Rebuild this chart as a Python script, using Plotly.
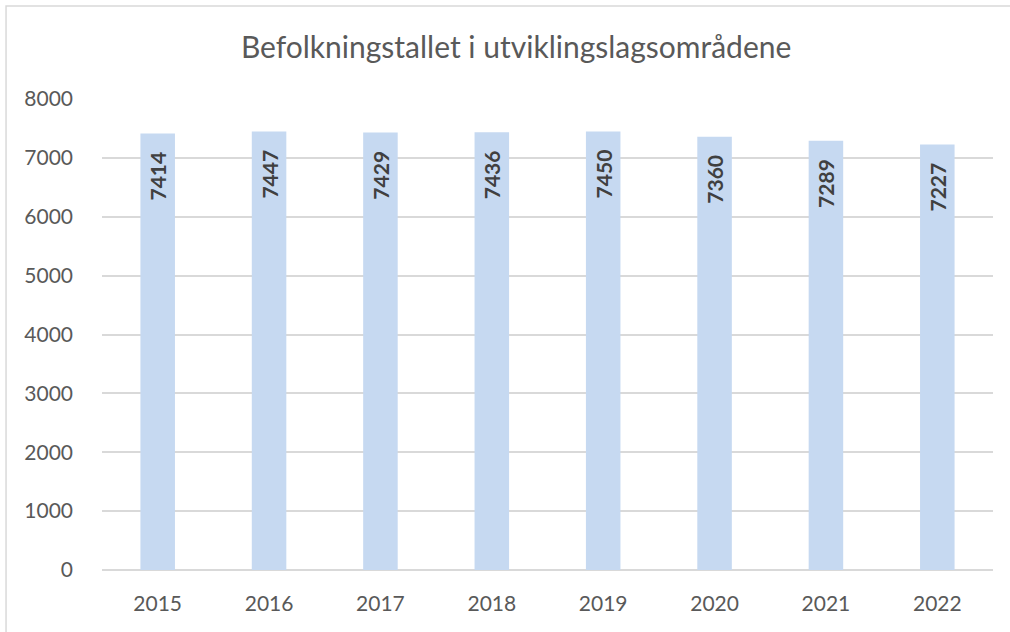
"""Befolkningstallet i utviklingslagsområdene - bar chart"""

import plotly.graph_objects as go

years = ["2015", "2016", "2017", "2018", "2019", "2020", "2021", "2022"]
population = [7414, 7447, 7429, 7436, 7450, 7360, 7289, 7227]
y_ticks = [0, 1000, 2000, 3000, 4000, 5000, 6000, 7000, 8000]

FONT = "Lato, 'Open Sans', sans-serif"

fig = go.Figure()

fig.add_trace(
    go.Bar(
        x=years,
        y=population,
        marker=dict(color="#C6D9F1", line=dict(width=0)),
        texttemplate="%{y}\u00a0\u00a0\u00a0",
        textposition="inside",
        insidetextanchor="end",
        textangle=-90,
        insidetextfont=dict(family=FONT, size=21, color="#404040", weight="bold"),
        cliponaxis=False,
    )
)

fig.update_layout(
    width=1010,
    height=632,
    margin=dict(l=102, r=17, t=99, b=62, autoexpand=False),
    paper_bgcolor="white",
    plot_bgcolor="white",
    bargap=0.69,
    showlegend=False,
    font=dict(family=FONT, color="#595959"),
    title=dict(
        text="Befolkningstallet i utviklingslagsområdene",
        x=0.511,
        xanchor="center",
        y=0.925,
        yanchor="middle",
        font=dict(family=FONT, size=30, color="#595959"),
    ),
    uniformtext=dict(minsize=8, mode="show"),
)

fig.update_yaxes(
    range=[0, 8000],
    tickvals=y_ticks,
    showgrid=True,
    gridcolor="#D9D9D9",
    gridwidth=1.5,
    zeroline=True,
    zerolinecolor="#D9D9D9",
    zerolinewidth=1.5,
    showline=False,
    ticks="",
    automargin=False,
    ticklabelstandoff=28,
    tickfont=dict(family=FONT, size=21, color="#595959"),
)
fig.update_xaxes(
    showgrid=False,
    showline=False,
    ticks="",
    automargin=False,
    ticklabelstandoff=19,
    tickfont=dict(family=FONT, size=21, color="#595959"),
)

# chart border (right and bottom edges fall outside the window, as in the original)
fig.add_shape(
    type="rect",
    xref="paper",
    yref="paper",
    x0=-0.1077,
    x1=1.1,
    y0=-0.2,
    y1=1.1975,
    line=dict(color="#D9D9D9", width=1.5),
    fillcolor="rgba(0,0,0,0)",
    layer="below",
)

# drop the default page margin so the figure sits at the window's top-left corner
fig.write_html(
    "out.html",
    config={"displayModeBar": False},
    post_script="document.body.style.margin = '0';",
)
